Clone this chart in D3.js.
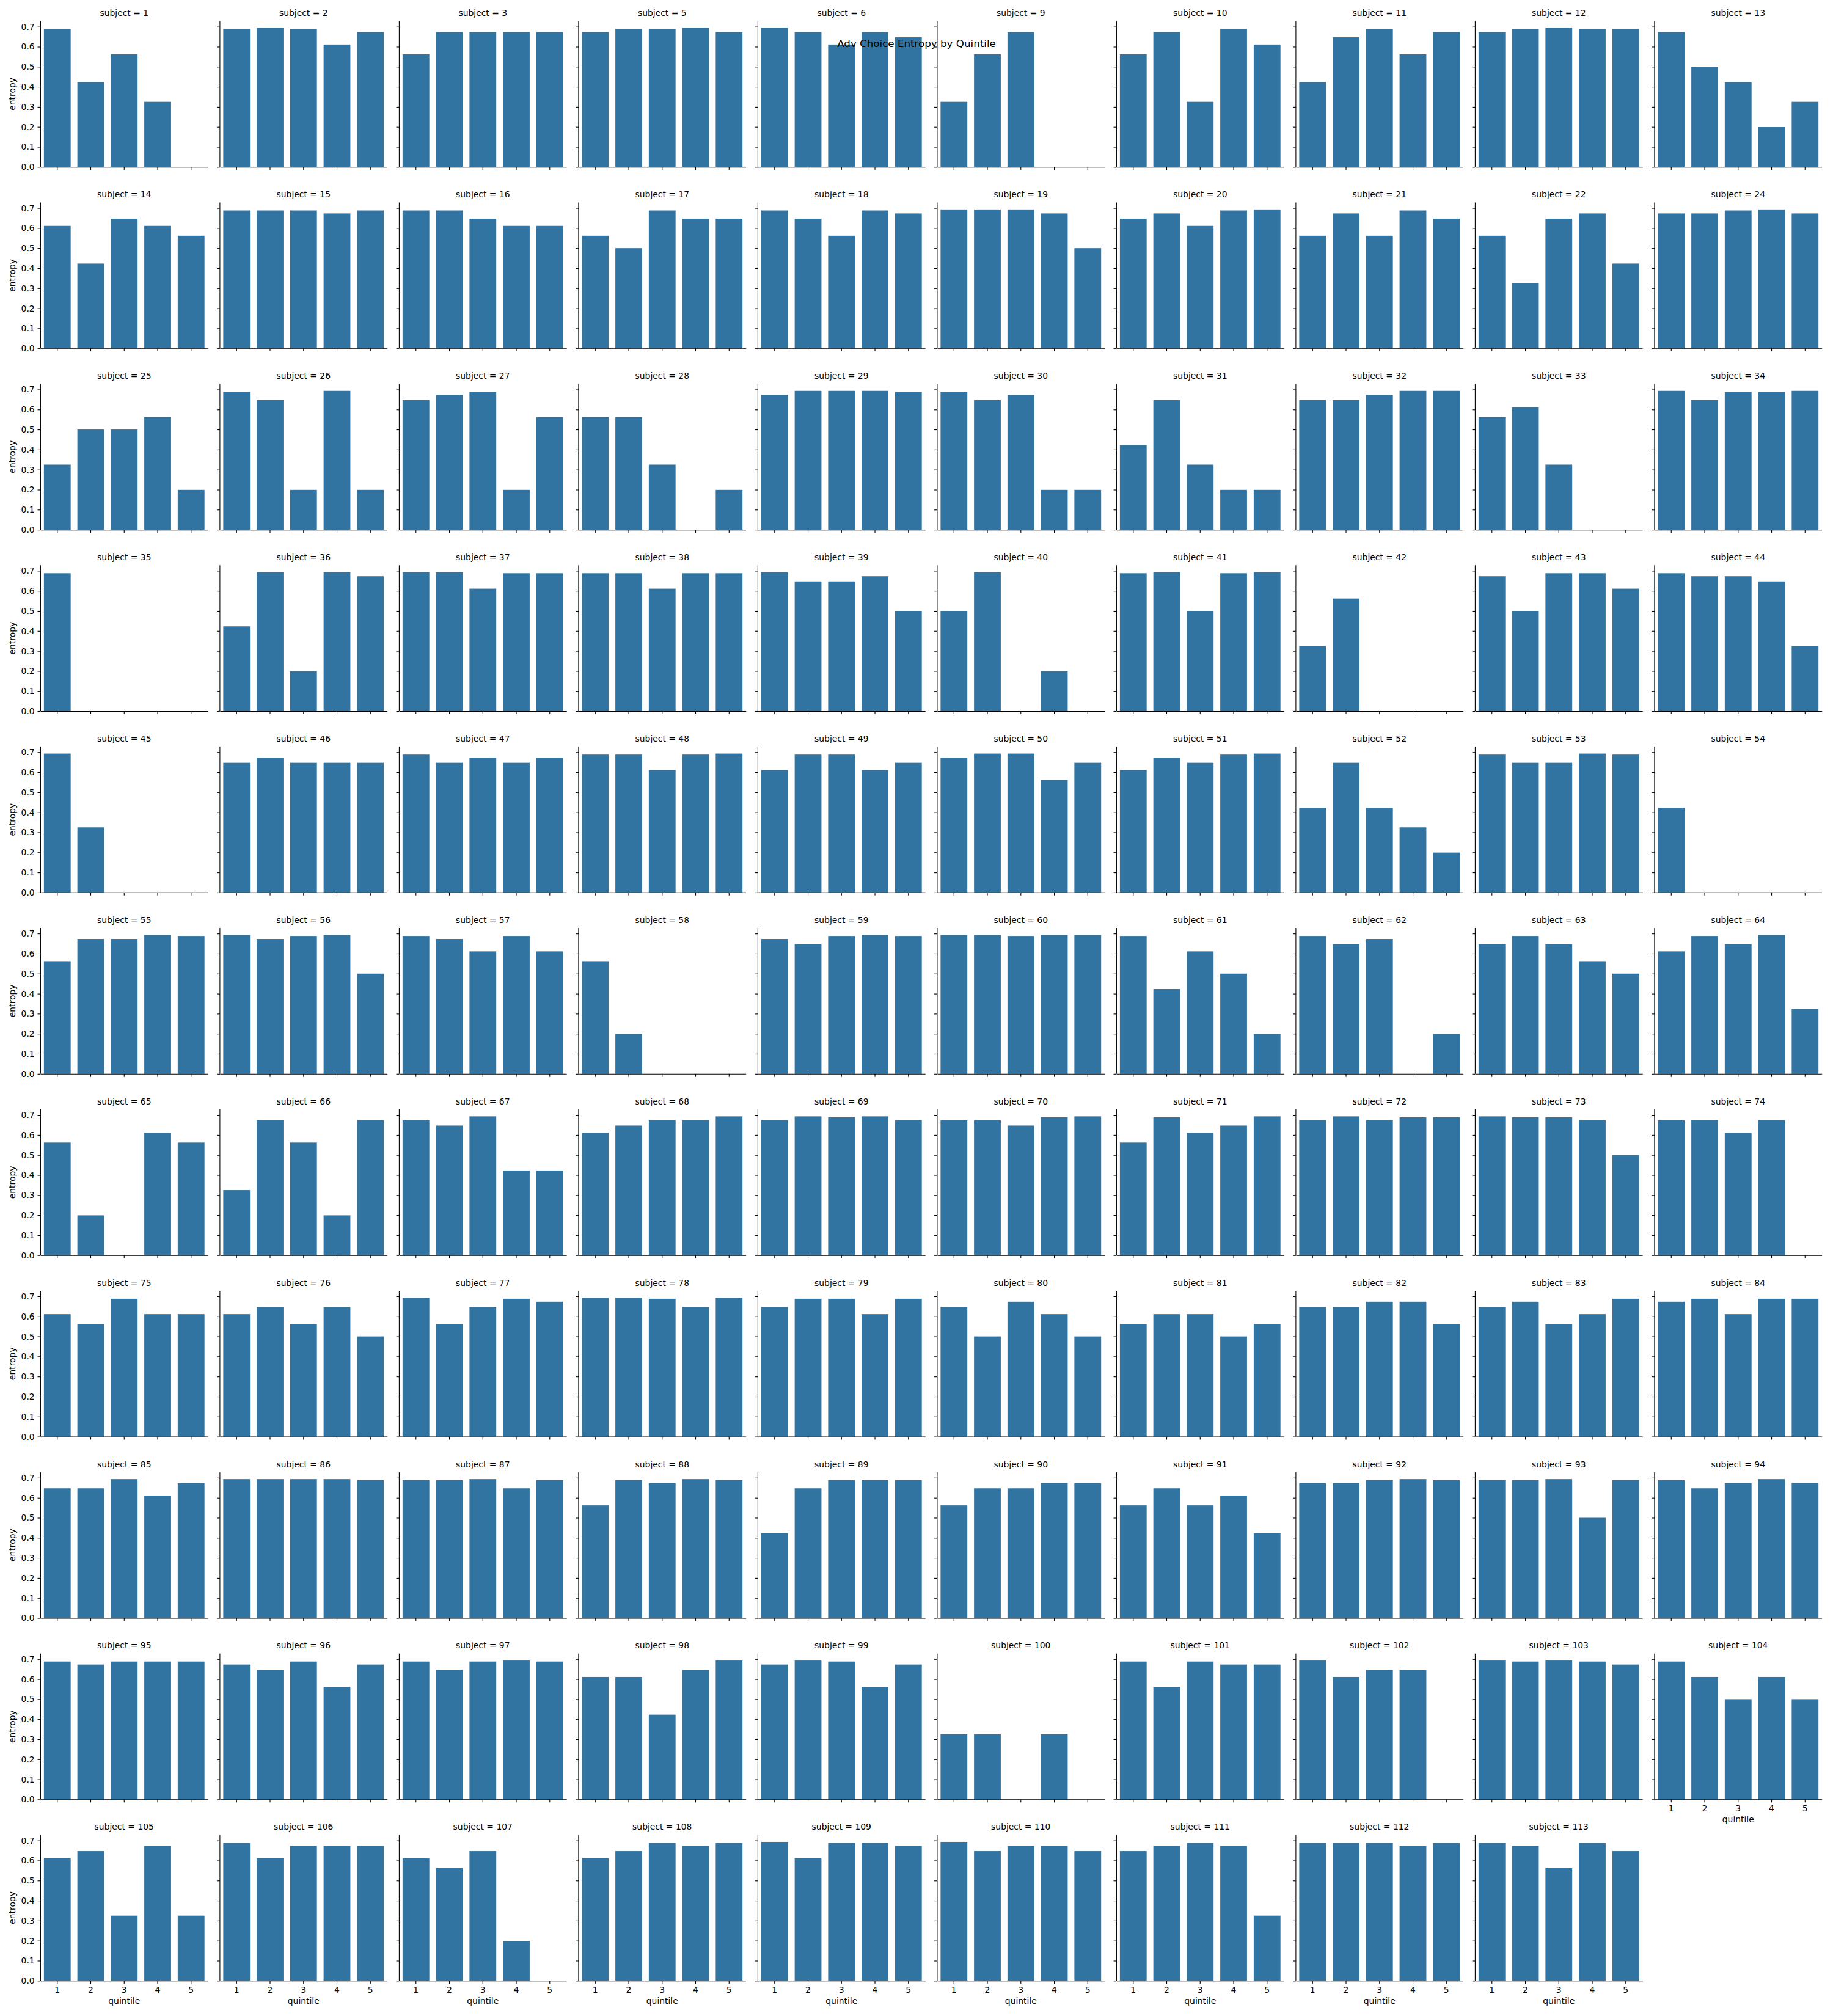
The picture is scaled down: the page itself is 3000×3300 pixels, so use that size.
<!DOCTYPE html>
<html><head><meta charset="utf-8">
<script src="https://cdn.jsdelivr.net/npm/d3@7"></script>
<style>
body{margin:0;background:#fff;}
svg{display:block;}
text{font-family:"DejaVu Sans",sans-serif;}
</style>
</head><body><div id="chart"></div>
<script>
const chartTitle = "Adv Choice Entropy by Quintile";
const xLabel = "quintile";
const yLabel = "entropy";
const quintiles = [1, 2, 3, 4, 5];
const yTicks = [0, 0.1, 0.2, 0.3, 0.4, 0.5, 0.6, 0.7];
const subjects = [1,2,3,5,6,9,10,11,12,13,14,15,16,17,18,19,20,21,22,24,25,26,27,28,29,30,31,32,33,34,35,36,37,38,39,40,41,42,43,44,45,46,47,48,49,50,51,52,53,54,55,56,57,58,59,60,61,62,63,64,65,66,67,68,69,70,71,72,73,74,75,76,77,78,79,80,81,82,83,84,85,86,87,88,89,90,91,92,93,94,95,96,97,98,99,100,101,102,103,104,105,106,107,108,109,110,111,112,113];
const entropy = [
[0.688,0.423,0.562,0.325,0],
[0.688,0.693,0.688,0.611,0.673],
[0.562,0.673,0.673,0.673,0.673],
[0.673,0.688,0.688,0.693,0.673],
[0.693,0.673,0.611,0.673,0.647],
[0.325,0.562,0.673,0,0],
[0.562,0.673,0.325,0.688,0.611],
[0.423,0.647,0.688,0.562,0.673],
[0.673,0.688,0.693,0.688,0.688],
[0.673,0.500,0.423,0.199,0.325],
[0.611,0.423,0.647,0.611,0.562],
[0.688,0.688,0.688,0.673,0.688],
[0.688,0.688,0.647,0.611,0.611],
[0.562,0.500,0.688,0.647,0.647],
[0.688,0.647,0.562,0.688,0.673],
[0.693,0.693,0.693,0.673,0.500],
[0.647,0.673,0.611,0.688,0.693],
[0.562,0.673,0.562,0.688,0.647],
[0.562,0.325,0.647,0.673,0.423],
[0.673,0.673,0.688,0.693,0.673],
[0.325,0.500,0.500,0.562,0.199],
[0.688,0.647,0.199,0.693,0.199],
[0.647,0.673,0.688,0.199,0.562],
[0.562,0.562,0.325,0,0.199],
[0.673,0.693,0.693,0.693,0.688],
[0.688,0.647,0.673,0.199,0.199],
[0.423,0.647,0.325,0.199,0.199],
[0.647,0.647,0.673,0.693,0.693],
[0.562,0.611,0.325,0,0],
[0.693,0.647,0.688,0.688,0.693],
[0.688,0,0,0,0],
[0.423,0.693,0.199,0.693,0.673],
[0.693,0.693,0.611,0.688,0.688],
[0.688,0.688,0.611,0.688,0.688],
[0.693,0.647,0.647,0.673,0.500],
[0.500,0.693,0,0.199,0],
[0.688,0.693,0.500,0.688,0.693],
[0.325,0.562,0,0,0],
[0.673,0.500,0.688,0.688,0.611],
[0.688,0.673,0.673,0.647,0.325],
[0.693,0.325,0,0,0],
[0.647,0.673,0.647,0.647,0.647],
[0.688,0.647,0.673,0.647,0.673],
[0.688,0.688,0.611,0.688,0.693],
[0.611,0.688,0.688,0.611,0.647],
[0.673,0.693,0.693,0.562,0.647],
[0.611,0.673,0.647,0.688,0.693],
[0.423,0.647,0.423,0.325,0.199],
[0.688,0.647,0.647,0.693,0.688],
[0.423,0,0,0,0],
[0.562,0.673,0.673,0.693,0.688],
[0.693,0.673,0.688,0.693,0.500],
[0.688,0.673,0.611,0.688,0.611],
[0.562,0.199,0,0,0],
[0.673,0.647,0.688,0.693,0.688],
[0.693,0.693,0.688,0.693,0.693],
[0.688,0.423,0.611,0.500,0.199],
[0.688,0.647,0.673,0,0.199],
[0.647,0.688,0.647,0.562,0.500],
[0.611,0.688,0.647,0.693,0.325],
[0.562,0.199,0,0.611,0.562],
[0.325,0.673,0.562,0.199,0.673],
[0.673,0.647,0.693,0.423,0.423],
[0.611,0.647,0.673,0.673,0.693],
[0.673,0.693,0.688,0.693,0.673],
[0.673,0.673,0.647,0.688,0.693],
[0.562,0.688,0.611,0.647,0.693],
[0.673,0.693,0.673,0.688,0.688],
[0.693,0.688,0.688,0.673,0.500],
[0.673,0.673,0.611,0.673,0],
[0.611,0.562,0.688,0.611,0.611],
[0.611,0.647,0.562,0.647,0.500],
[0.693,0.562,0.647,0.688,0.673],
[0.693,0.693,0.688,0.647,0.693],
[0.647,0.688,0.688,0.611,0.688],
[0.647,0.500,0.673,0.611,0.500],
[0.562,0.611,0.611,0.500,0.562],
[0.647,0.647,0.673,0.673,0.562],
[0.647,0.673,0.562,0.611,0.688],
[0.673,0.688,0.611,0.688,0.688],
[0.647,0.647,0.693,0.611,0.673],
[0.693,0.693,0.693,0.693,0.688],
[0.688,0.688,0.693,0.647,0.688],
[0.562,0.688,0.673,0.693,0.688],
[0.423,0.647,0.688,0.688,0.688],
[0.562,0.647,0.647,0.673,0.673],
[0.562,0.647,0.562,0.611,0.423],
[0.673,0.673,0.688,0.693,0.688],
[0.688,0.688,0.693,0.500,0.688],
[0.688,0.647,0.673,0.693,0.673],
[0.688,0.673,0.688,0.688,0.688],
[0.673,0.647,0.688,0.562,0.673],
[0.688,0.647,0.688,0.693,0.688],
[0.611,0.611,0.423,0.647,0.693],
[0.673,0.693,0.688,0.562,0.673],
[0.325,0.325,0,0.325,0],
[0.688,0.562,0.688,0.673,0.673],
[0.693,0.611,0.647,0.647,0],
[0.693,0.688,0.693,0.688,0.673],
[0.688,0.611,0.500,0.611,0.500],
[0.611,0.647,0.325,0.673,0.325],
[0.688,0.611,0.673,0.673,0.673],
[0.611,0.562,0.647,0.199,0],
[0.611,0.647,0.688,0.673,0.688],
[0.693,0.611,0.688,0.688,0.673],
[0.693,0.647,0.673,0.673,0.647],
[0.647,0.673,0.688,0.673,0.325],
[0.688,0.688,0.688,0.673,0.688],
[0.688,0.673,0.562,0.688,0.647]
];

const W = 3000, H = 3300, ncol = 10;
const left0 = 66.4, colStep = 293.5, panelW = 273.75;
const top0 = 34.6, rowStep = 296.9, panelH = 238.7;
const fs = 13.9, barColor = "#3274a1";
const yMax = d3.max(entropy.flat()) * 1.05;

const svg = d3.select("#chart").append("svg")
  .attr("width", W).attr("height", H).attr("viewBox", `0 0 ${W} ${H}`);
svg.append("rect").attr("width", W).attr("height", H).attr("fill", "#fff");

const x = d3.scaleBand().domain(quintiles).range([0, panelW]).paddingInner(0.2).paddingOuter(0.1);
const y = d3.scaleLinear().domain([0, yMax]).range([panelH, 0]);

const n = subjects.length;
subjects.forEach((s, i) => {
  const col = i % ncol, row = Math.floor(i / ncol);
  const g = svg.append("g").attr("transform", `translate(${left0 + col * colStep},${top0 + row * rowStep})`);
  const vals = entropy[i];

  g.selectAll("rect.bar").data(quintiles).join("rect").attr("class", "bar")
    .attr("x", q => x(q)).attr("width", x.bandwidth())
    .attr("y", (q, k) => y(vals[k])).attr("height", (q, k) => y(0) - y(vals[k]))
    .attr("fill", barColor);

  const showX = i + ncol >= n;
  const xa = g.append("g").attr("transform", `translate(0,${panelH})`)
    .call(d3.axisBottom(x).tickSize(4.86).tickSizeOuter(0).tickPadding(4.86)
      .tickFormat(showX ? d => String(d) : () => ""));
  const ya = g.append("g")
    .call(d3.axisLeft(y).tickValues(yTicks).tickSize(4.86).tickSizeOuter(0).tickPadding(4.86)
      .tickFormat(col === 0 ? d3.format(".1f") : () => ""));
  [xa, ya].forEach(a => {
    a.attr("color", "#000").attr("font-size", fs).attr("font-family", "DejaVu Sans");
    a.selectAll("path.domain").attr("stroke-width", 1.11);
    a.selectAll(".tick line").attr("stroke-width", 1.11);
    a.selectAll("text").attr("fill", "#000");
  });
  ya.select("path.domain").attr("d", `M0,0V${panelH}`);

  g.append("text").attr("x", panelW / 2).attr("y", -8.3)
    .attr("text-anchor", "middle").attr("font-size", fs).attr("fill", "#000")
    .text(`subject = ${s}`);

  if (col === 0) {
    g.append("text").attr("transform", `translate(${25 - left0},${panelH / 2}) rotate(-90)`)
      .attr("text-anchor", "middle").attr("font-size", fs).attr("fill", "#000").text(yLabel);
  }
  if (showX) {
    g.append("text").attr("x", panelW / 2).attr("y", panelH + 38)
      .attr("text-anchor", "middle").attr("font-size", fs).attr("fill", "#000").text(xLabel);
  }
});

svg.append("text").attr("x", W / 2).attr("y", 77)
  .attr("text-anchor", "middle").attr("font-size", 16.7).attr("fill", "#000").text(chartTitle);
</script>
</body></html>
